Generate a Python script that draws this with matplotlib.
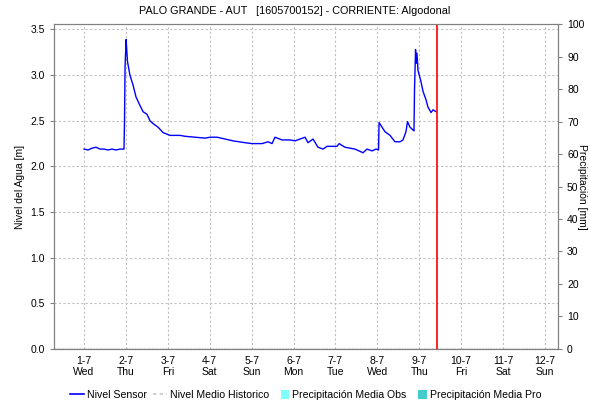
import matplotlib
matplotlib.use("Agg")
from matplotlib import pyplot as plt
from matplotlib.lines import Line2D
from matplotlib.patches import Patch

plt.rcParams['font.family'] = ['Liberation Sans', 'DejaVu Sans']

# horas desde 1-7 00:00 y nivel del sensor [m]
horas = [0, 2.3, 4.6, 6.9, 9.2, 11.5, 13.7, 16.0, 18.3, 20.6, 22.9, 23.2, 23.5,
         24.1, 24.5, 24.9, 26.3, 28.1, 29.8, 31.5, 33.8, 36.1, 37.8, 39.5, 42.4,
         45.3, 49.3, 55.0, 57.9, 63.6, 69.3, 72.2, 76.2, 80.8, 85.3, 92.2, 96.2,
         102.0, 105.4, 107.7, 109.4, 113.4, 118.0, 120.9, 123.7, 126.6, 128.3,
         131.2, 134.0, 136.9, 139.2, 144.9, 146.1, 149.5, 155.2, 159.8, 162.1,
         165.0, 167.2, 168.7, 169.0, 170.7, 172.4, 175.3, 178.1, 181.0, 182.7,
         184.4, 185.3, 186.7, 188.4, 189.0, 189.3, 189.9, 190.2, 190.7, 191.3,
         193.0, 194.2, 195.9, 197.0, 198.8, 199.9, 201.6]
nivel = [2.19, 2.18, 2.20, 2.21, 2.19, 2.19, 2.18, 2.19, 2.18, 2.19, 2.19, 2.50, 3.09,
         3.39, 3.27, 3.15, 3.00, 2.89, 2.76, 2.69, 2.60, 2.57, 2.50, 2.47, 2.43,
         2.37, 2.34, 2.34, 2.33, 2.32, 2.31, 2.32, 2.32, 2.30, 2.28, 2.26, 2.25,
         2.25, 2.27, 2.25, 2.32, 2.29, 2.29, 2.28, 2.30, 2.32, 2.26,
         2.30, 2.21, 2.19, 2.22, 2.22, 2.25, 2.21, 2.19, 2.15, 2.19,
         2.17, 2.19, 2.18, 2.48, 2.43, 2.38, 2.34, 2.27, 2.27, 2.29,
         2.38, 2.49, 2.43, 2.40, 2.39, 2.84, 3.28, 3.13, 3.24, 3.05,
         2.93, 2.82, 2.73, 2.65, 2.59, 2.62, 2.60]

hora_actual = 202.2
dias = ["1-7", "2-7", "3-7", "4-7", "5-7", "6-7", "7-7", "8-7", "9-7", "10-7", "11-7", "12-7"]
semana = ["Wed", "Thu", "Fri", "Sat", "Sun", "Mon", "Tue", "Wed", "Thu", "Fri", "Sat", "Sun"]
ticks_nivel = [0.0, 0.5, 1.0, 1.5, 2.0, 2.5, 3.0, 3.5]
ticks_precip = [0, 10, 20, 30, 40, 50, 60, 70, 80, 90, 100]

fig = plt.figure(figsize=(5.9, 4.05), dpi=100)
ax = fig.add_axes([0.0915, 0.1383, 0.8543, 0.8024])
ax2 = ax.twinx()

gris = '#808080'
for a in (ax, ax2):
    for s in a.spines.values():
        s.set_color(gris)
    a.tick_params(colors='black', labelsize=7.5, length=3, width=0.8)
    a.tick_params(axis='y', color=gris)

ax.plot(horas, nivel, color='#0000ff', lw=1.0, zorder=3)
ax.plot([-17.2, 271.5], [0, 0], color='#404040', lw=1.0, ls=(0, (1, 1)), zorder=2)
ax.axvline(hora_actual, color='red', lw=1.2, zorder=4)

ax.set_xlim(-17.2, 271.5)
ax.set_ylim(0, 3.56)
ax.set_yticks(ticks_nivel)
ax.set_yticklabels(["%.1f" % t for t in ticks_nivel])
ax.set_xticks([24 * i for i in range(len(dias))])
ax.set_xticklabels([d + "\n" + w for d, w in zip(dias, semana)], linespacing=1.1)
ax.tick_params(axis='x', length=0, pad=5)
ax.grid(True, color='#c0c0c0', ls=(0, (2, 2)), lw=0.8)
ax.set_axisbelow(True)
ax.set_ylabel("Nivel del Agua [m]", fontsize=7.5, labelpad=4)

ax2.set_ylim(0, 100)
ax2.set_yticks(ticks_precip)
ax2.set_ylabel("Precipitación [mm]", fontsize=7.5, rotation=270)
ax2.yaxis.set_label_coords(1.058, 0.5)

fig.suptitle("PALO GRANDE - AUT   [1605700152] - CORRIENTE: Algodonal",
             fontsize=7.8, y=0.985)

handles = [Line2D([], [], color='#0000ff', lw=1.2),
           Line2D([], [], color='#c8c8c8', lw=1.2, ls=(0, (2, 2))),
           Patch(facecolor='#80ffff', edgecolor='none'),
           Patch(facecolor='#44cccc', edgecolor='none')]
labels = ["Nivel Sensor", "Nivel Medio Historico",
          "Precipitación Media Obs", "Precipitación Media Pro"]
leg = fig.legend(handles, labels, loc='center', bbox_to_anchor=(0.518, 0.025), ncol=4,
                 frameon=False, fontsize=7.6, handlelength=1.3, handleheight=0.9,
                 handletextpad=0.3, columnspacing=0.6)
for p in leg.get_patches():
    p.set_x(p.get_x() + p.get_width() - 6)
    p.set_width(6)

fig.savefig("out.png", dpi=100)
